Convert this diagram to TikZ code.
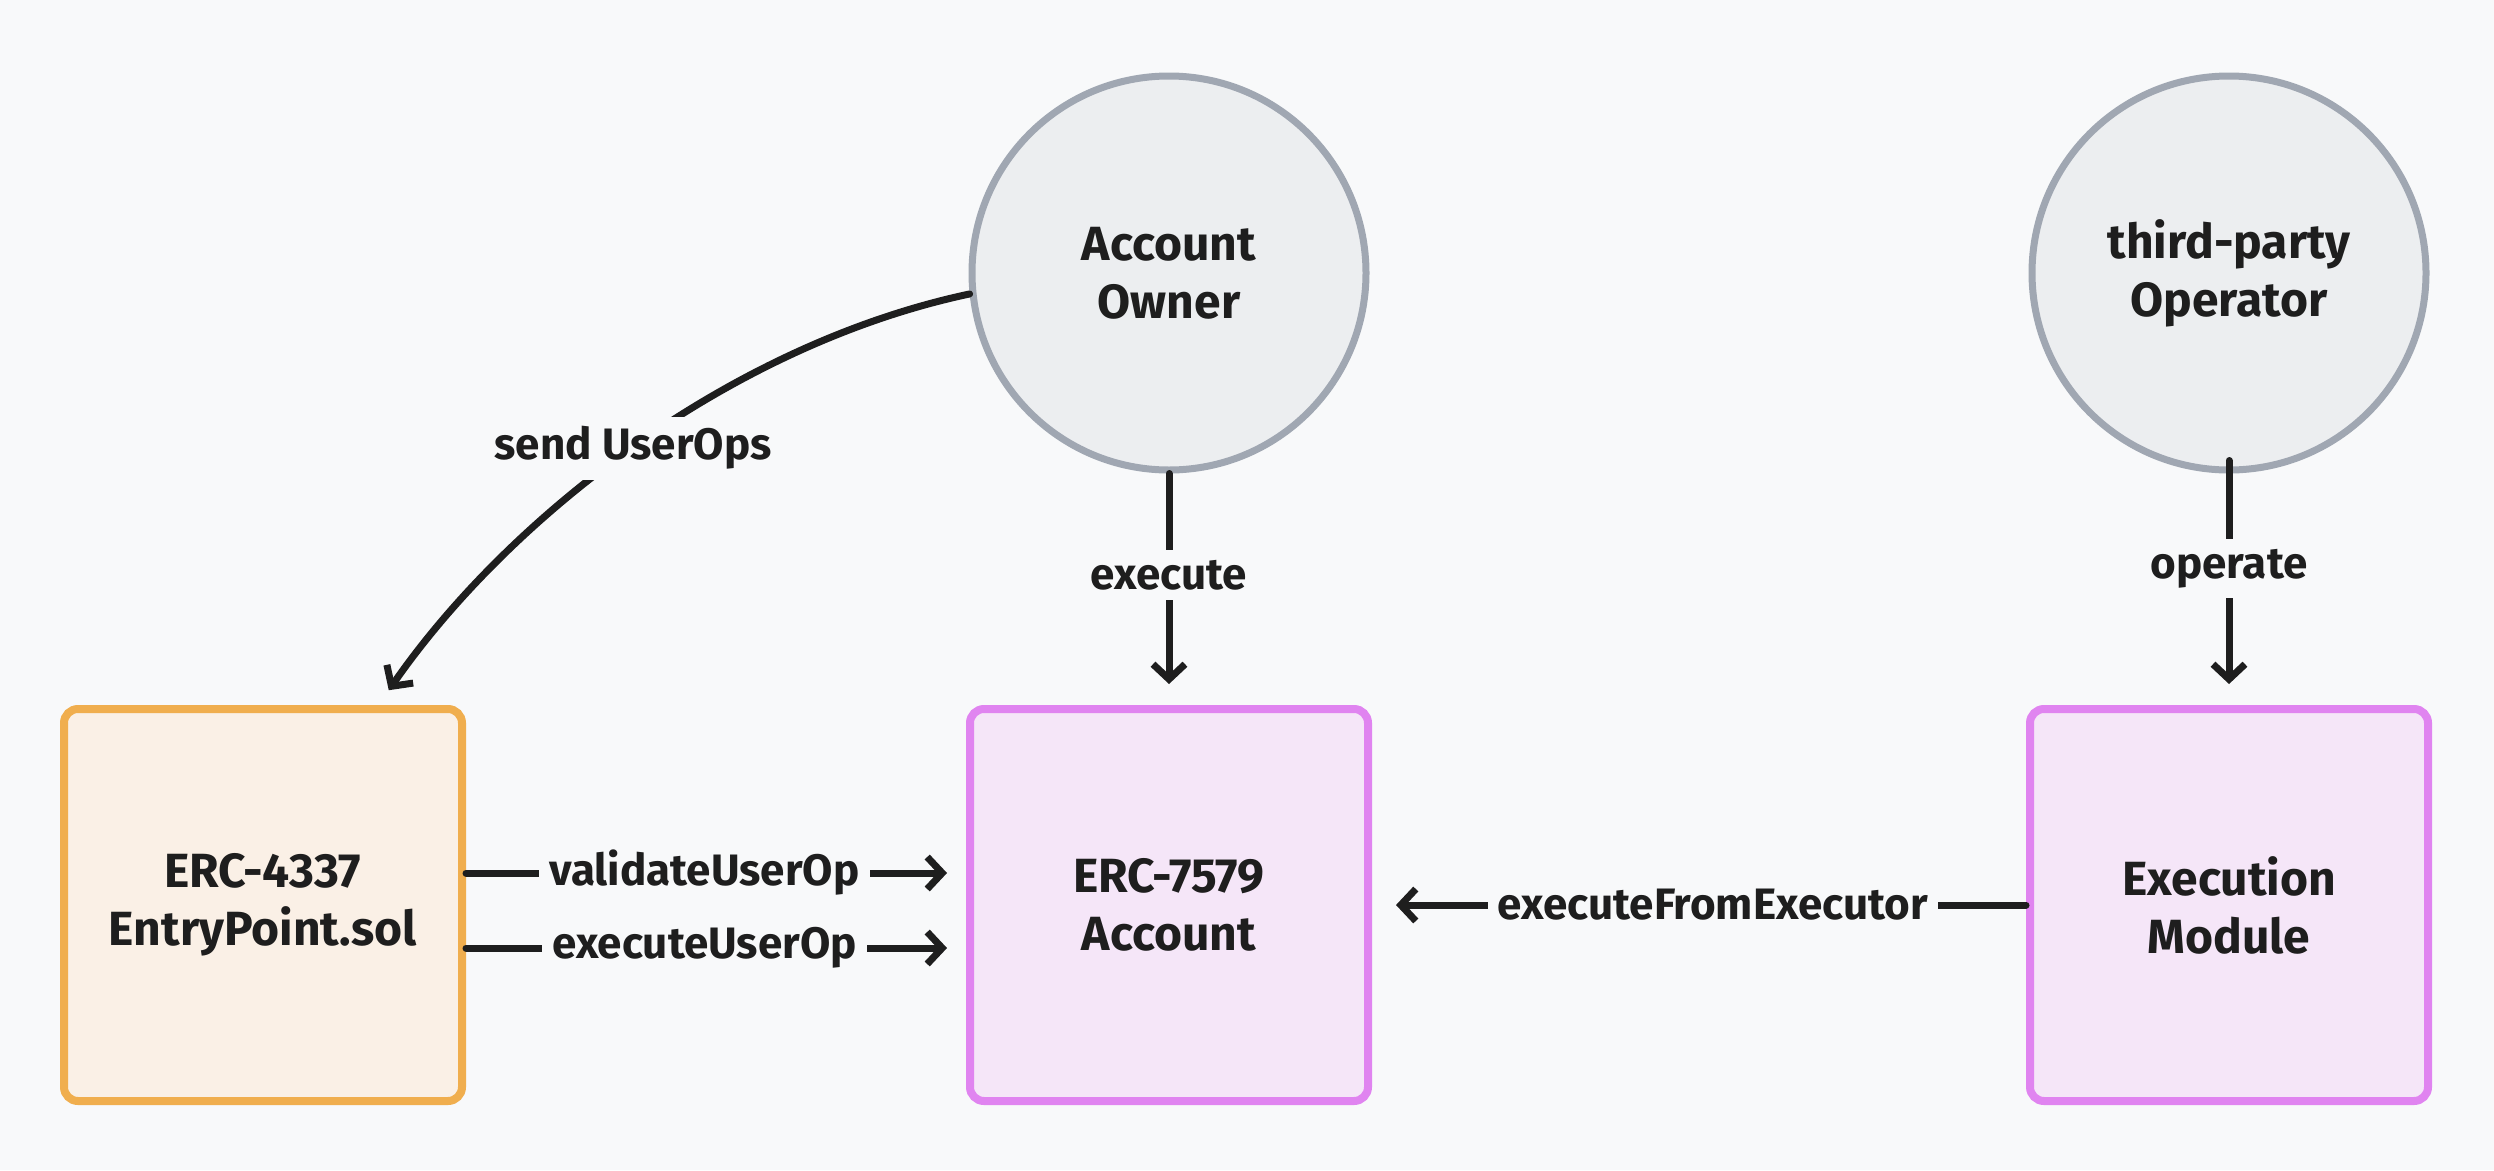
\documentclass[tikz,border=0pt]{standalone}
\usepackage{fontspec}
\setmainfont{Fira Sans}
\usetikzlibrary{arrows.meta,calc}
\definecolor{bg}{HTML}{F8F9FA}
\definecolor{ink}{HTML}{1E1E1E}
\definecolor{orst}{HTML}{F0AE4E}
\definecolor{orfill}{HTML}{FAF0E6}
\definecolor{pust}{HTML}{E084F0}
\definecolor{pufill}{HTML}{F5E6F8}
\definecolor{grst}{HTML}{A0A7B2}
\definecolor{grfill}{HTML}{ECEEF0}
\newcommand\dgnodefont{\fontsize{48}{58}\selectfont\bfseries}
\newcommand\dglblfont{\fontsize{44}{52}\selectfont\bfseries}
\begin{document}
\begin{tikzpicture}[x=1pt,y=-1pt,
  box/.style={rectangle, rounded corners=14pt, line width=8pt, minimum width=398pt, minimum height=392pt, align=center, font=\dgnodefont, text=ink},
  ebox/.style={box, draw=orst, fill=orfill},
  pbox/.style={box, draw=pust, fill=pufill},
  actor/.style={circle, draw=grst, fill=grfill, line width=7pt, minimum size=394pt, align=center, font=\dgnodefont, text=ink},
  conn/.style={draw=ink, line width=7pt, line cap=round, -{Straight Barb[length=15pt,width=32pt]}},
  lbl/.style={fill=bg, font=\dglblfont, text=ink, inner sep=10pt}
]
\fill[bg] (0,0) rectangle (2494,1170);
\useasboundingbox (0,0) rectangle (2494,1170);

\node[ebox] (ep) at (263,905) {ERC-4337\\EntryPoint.sol};
\node[pbox] (acct) at (1169,905) {ERC-7579\\Account};
\node[pbox] (em) at (2229,905) {Execution\\Module};
\node[actor] (ao) at (1169,273) {Account\\Owner};
\node[actor] (op) at (2229,273) {third-party\\Operator};

\draw[conn, shorten >=18pt] (ao.186) .. controls (730,345) and (509,517) .. (ep.60)
  node[lbl, pos=0.5] {send UserOps};
\draw[conn, shorten >=21pt] (ao.south) -- (acct.north) node[lbl, pos=0.44] {execute};
\draw[conn, shorten <=-13pt, shorten >=21pt] (op.south) -- (em.north) node[lbl, pos=0.41] {operate};
\draw[conn, shorten >=19pt] ([yshift=32pt]ep.east) -- ([yshift=32pt]acct.west)
  node[lbl, pos=0.477] {validateUserOp};
\draw[conn, shorten >=19pt] ([yshift=-43pt]ep.east) -- ([yshift=-43pt]acct.west)
  node[lbl, pos=0.477] {executeUserOp};
\draw[conn, shorten >=24pt] (em.west) -- (acct.east)
  node[lbl, pos=0.479] {executeFromExecutor};
\end{tikzpicture}
\end{document}
